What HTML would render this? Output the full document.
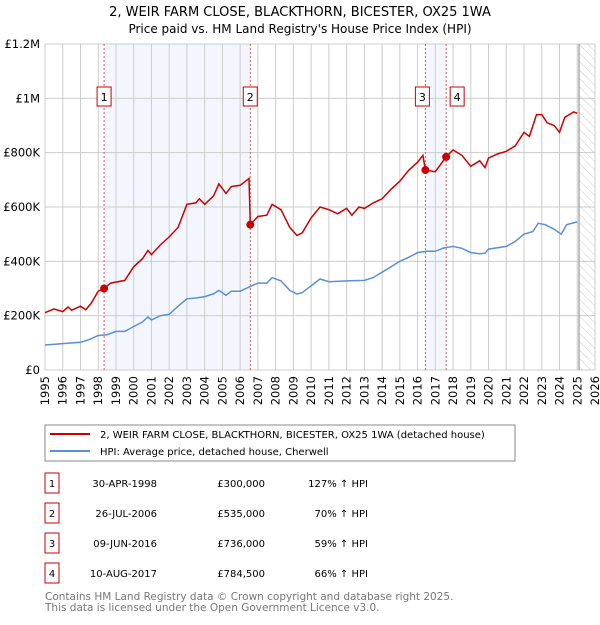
<!DOCTYPE html>
<html><head><meta charset="utf-8"><style>
body{margin:0;background:#fff;}
svg text{font-family:"DejaVu Sans","Liberation Sans",sans-serif;}
</style></head><body>
<svg id="c" width="600" height="620" xmlns="http://www.w3.org/2000/svg">
<text x="300" y="16" text-anchor="middle" font-size="13" fill="#000">2, WEIR FARM CLOSE, BLACKTHORN, BICESTER, OX25 1WA</text>
<text x="300" y="33" text-anchor="middle" font-size="12" fill="#000">Price paid vs. HM Land Registry's House Price Index (HPI)</text>
<defs><pattern id="hatch" width="6" height="6" patternUnits="userSpaceOnUse" patternTransform="rotate(-45)"><line x1="0" y1="0" x2="0" y2="6" stroke="#ccc" stroke-width="1"/></pattern></defs>
<g id="plot"></g>
<rect x="45" y="425" width="470" height="36" fill="#fff" stroke="#888"/>
<line x1="50" y1="434" x2="90" y2="434" stroke="#cc0000" stroke-width="2"/>
<text x="100" y="438" font-size="10">2, WEIR FARM CLOSE, BLACKTHORN, BICESTER, OX25 1WA (detached house)</text>
<line x1="50" y1="451" x2="90" y2="451" stroke="#5b8fd6" stroke-width="2"/>
<text x="100" y="455" font-size="10">HPI: Average price, detached house, Cherwell</text>
<g id="table" font-size="10"></g>
<text x="45" y="600" font-size="10.5" fill="#777">Contains HM Land Registry data © Crown copyright and database right 2025.</text>
<text x="45" y="611" font-size="10.5" fill="#777">This data is licensed under the Open Government Licence v3.0.</text>
</svg>
<script>
const yTicks=[0,200000,400000,600000,800000,1000000,1200000];
const yTickLabels=["£0","£200K","£400K","£600K","£800K","£1M","£1.2M"];
const years=[1995,1996,1997,1998,1999,2000,2001,2002,2003,2004,2005,2006,2007,2008,2009,2010,2011,2012,2013,2014,2015,2016,2017,2018,2019,2020,2021,2022,2023,2024,2025,2026];
const redT=[1995,1995.5,1996,1996.3,1996.5,1997,1997.3,1997.6,1998,1998.33,1998.7,1999.5,2000,2000.5,2000.8,2001,2001.5,2002,2002.5,2003,2003.5,2003.7,2004,2004.5,2004.8,2005.2,2005.5,2006,2006.5,2006.57,2007,2007.5,2007.8,2008.3,2008.8,2009.2,2009.5,2010,2010.5,2011,2011.5,2012,2012.3,2012.7,2013,2013.5,2014,2014.5,2015,2015.5,2016,2016.3,2016.44,2017,2017.61,2018,2018.5,2019,2019.5,2019.8,2020,2020.5,2021,2021.5,2022,2022.3,2022.7,2023,2023.3,2023.7,2024,2024.3,2024.8,2025];
const redV=[211000,225000,215000,232000,220000,235000,222000,245000,290000,300000,320000,330000,380000,410000,440000,425000,460000,490000,525000,610000,615000,630000,610000,640000,685000,650000,675000,680000,705000,535000,565000,570000,610000,590000,525000,495000,505000,560000,600000,590000,575000,595000,570000,600000,595000,615000,630000,665000,695000,735000,765000,790000,736000,730000,784500,810000,790000,750000,770000,745000,780000,795000,805000,825000,875000,860000,940000,940000,910000,900000,875000,930000,950000,945000];
const blueT=[1995,1996,1997,1997.5,1998,1998.5,1999,1999.5,2000,2000.5,2000.8,2001,2001.5,2002,2002.5,2003,2003.5,2004,2004.5,2004.8,2005.2,2005.5,2006,2006.5,2007,2007.5,2007.8,2008.3,2008.8,2009.2,2009.5,2010,2010.5,2011,2012,2013,2013.5,2014,2014.5,2015,2015.5,2016,2016.5,2017,2017.5,2018,2018.5,2019,2019.5,2019.8,2020,2021,2021.5,2022,2022.5,2022.8,2023.2,2023.7,2024.1,2024.4,2025];
const blueV=[92000,97000,102000,112000,127000,130000,142000,142000,160000,177000,195000,184000,200000,205000,235000,262000,265000,270000,280000,293000,275000,290000,290000,305000,320000,320000,340000,328000,293000,280000,285000,310000,335000,325000,328000,330000,340000,360000,380000,400000,415000,432000,437000,437000,450000,455000,448000,432000,428000,430000,445000,455000,473000,500000,510000,540000,535000,518000,500000,535000,545000];
const saleT=[1998.33,2006.57,2016.44,2017.61];
const saleV=[300000,535000,736000,784500];
const saleDates=["30-APR-1998","26-JUL-2006","09-JUN-2016","10-AUG-2017"];
const salePrices=["£300,000","£535,000","£736,000","£784,500"];
const saleHpi=["127% ↑ HPI","70% ↑ HPI","59% ↑ HPI","66% ↑ HPI"];
const dataEnd=2025.1;

const X0=45,X1=595,Y0=370,Y1=44;
const xs=t=>X0+(t-1995)/(2026-1995)*(X1-X0);
const ys=v=>Y0-v/1200000*(Y0-Y1);
const NS="http://www.w3.org/2000/svg";
const g=document.getElementById('plot');
function mk(tag,attrs,parent){const e=document.createElementNS(NS,tag);for(const k in attrs)e.setAttribute(k,attrs[k]);(parent||g).appendChild(e);return e;}

let r=mk('rect',{x:xs(saleT[0]),y:Y1,width:xs(saleT[1])-xs(saleT[0]),height:Y0-Y1,fill:'#eef3fc',opacity:0.7});


r=mk('rect',{x:xs(saleT[2]),y:Y1,width:xs(saleT[3])-xs(saleT[2]),height:Y0-Y1,fill:'#eef3fc',opacity:0.7});


r=mk('rect',{x:xs(dataEnd),y:Y1,width:X1-xs(dataEnd),height:Y0-Y1,fill:'url(#hatch)'});



yTicks.forEach((v,i)=>{
  const l=mk('line',{x1:X0,x2:X1,y1:ys(v),y2:ys(v),stroke:'#ccc','stroke-width':1});
  
  
  const t=mk('text',{x:X0-5,y:ys(v)+4,'text-anchor':'end','font-size':11.5});
  
  
  t.textContent=yTickLabels[i];
});
years.forEach(y=>{
  const l=mk('line',{x1:xs(y),x2:xs(y),y1:Y1,y2:Y0,stroke:'#ccc','stroke-width':1});
  
  
  const t=mk('text',{x:0,y:0,'text-anchor':'end','font-size':11.5,transform:`translate(${xs(y)+4},${Y0+6}) rotate(-90)`});
  
  
  t.textContent=y;
});
let ln=mk('line',{x1:xs(dataEnd),x2:xs(dataEnd),y1:Y1,y2:Y0,stroke:'#999','stroke-width':1.2});



saleT.forEach((t,i)=>{
  const l=mk('line',{x1:xs(t),x2:xs(t),y1:Y1,y2:Y0,stroke:'#e05555','stroke-width':1,'stroke-dasharray':'2,2'});
  
  
  const bx=mk('rect',{x:xs(t)-(i==3?-4:i==2?10:7),y:87,width:14,height:19,fill:'#fff',stroke:'#c00'});
  
  
  const tx=mk('text',{x:xs(t)-(i==3?-11:i==2?3:0),y:101,'text-anchor':'middle','font-size':11});
  
  
  tx.textContent=i+1;
});

function path(T,V){return T.map((t,i)=>(i?'L':'M')+xs(t).toFixed(1)+','+ys(V[i]).toFixed(1)).join('');}
let p=mk('path',{d:path(blueT,blueV),fill:'none',stroke:'#5b8fd6','stroke-width':1.5});


p=mk('path',{d:path(redT,redV),fill:'none',stroke:'#cc0000','stroke-width':1.5});


saleT.forEach((t,i)=>{
  const c=mk('circle',{cx:xs(t),cy:ys(saleV[i]),r:4,fill:'#cc0000'});
  
  
});

const tb=document.getElementById('table');
saleT.forEach((t,i)=>{
  const y=483+i*30;
  const b=mk('rect',{x:45,y:y-10,width:14,height:20,fill:'#fff',stroke:'#c00'},tb);
  
  
  const cells=[[52,'middle',i+1],[157,'end',saleDates[i]],[265,'end',salePrices[i]],[368,'end',saleHpi[i]]];
  cells.forEach(c=>{
    const e=mk('text',{x:c[0],y:y+4,'text-anchor':c[1]},tb);
    
    
    e.textContent=c[2];
  });
});
</script>
</body></html>
